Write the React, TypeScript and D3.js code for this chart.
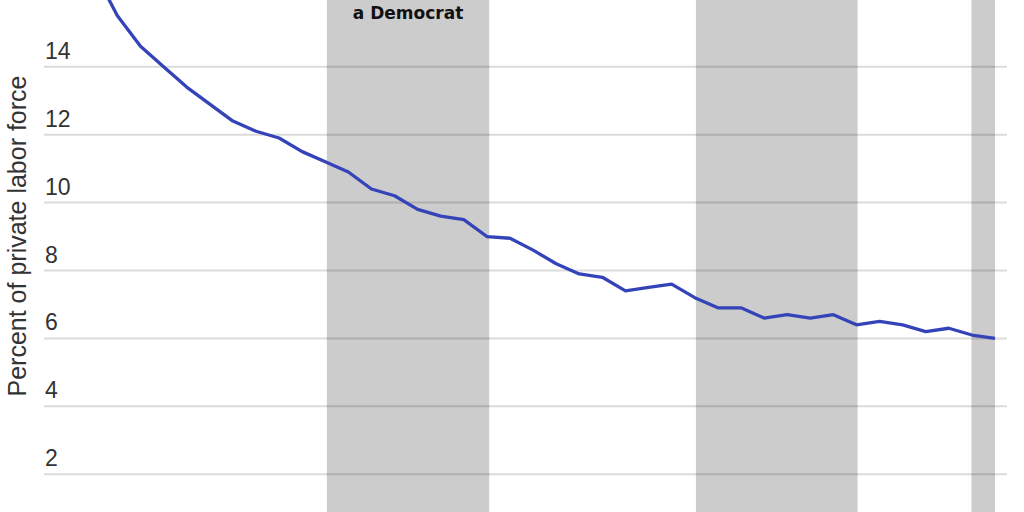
import React from "react";
import * as d3 from "d3";

const years: number[] = [1983,1984,1985,1986,1987,1988,1989,1990,1991,1992,1993,1994,1995,1996,1997,1998,1999,2000,2001,2002,2003,2004,2005,2006,2007,2008,2009,2010,2011,2012,2013,2014,2015,2016,2017,2018,2019,2020,2021,2022];
const rates: number[] = [16.8,15.5,14.6,14.0,13.4,12.9,12.4,12.1,11.9,11.5,11.2,10.9,10.4,10.2,9.8,9.6,9.5,9.0,8.95,8.6,8.2,7.9,7.8,7.4,7.5,7.6,7.2,6.9,6.9,6.6,6.7,6.6,6.7,6.4,6.5,6.4,6.2,6.3,6.1,6.0];
const democratStart: number[] = [1993.07, 2009.05, 2020.98];
const democratEnd: number[] = [2000.1, 2016.05, 2022.0];
const yTicks: number[] = [2, 4, 6, 8, 10, 12, 14];
const shadeLabel = "a Democrat";
const yLabel = "Percent of private labor force";

const W = 1024;
const H = 512;

export default function App() {
  const x = d3.scaleLinear().domain([1983, 2022]).range([94.3, 995]);
  const y = d3.scaleLinear().domain([2, 14]).range([474.3, 66.7]);
  const gridX0 = 44;
  const gridX1 = 1007;
  const line = d3
    .line<number>()
    .x((_, i) => x(years[i]))
    .y((d) => y(d))
    .curve(d3.curveLinear);

  return (
    <svg
      width={W}
      height={H}
      style={{ position: "fixed", left: 0, top: 0, background: "#fff" }}
    >
      <rect x={0} y={0} width={W} height={H} fill="#fff" />
      {democratStart.map((s, i) => (
        <rect
          key={i}
          x={x(s)}
          y={0}
          width={x(democratEnd[i]) - x(s)}
          height={H}
          fill="#cccccc"
        />
      ))}
      <text
        x={(x(democratStart[0]) + x(democratEnd[0])) / 2}
        y={19}
        textAnchor="middle"
        fontFamily="DejaVu Sans"
        fontWeight="bold"
        fontSize={17}
        fill="#111"
      >
        {shadeLabel}
      </text>
      {yTicks.map((t) => (
        <g key={t}>
          <line
            x1={gridX0}
            x2={gridX1}
            y1={y(t)}
            y2={y(t)}
            stroke="#000"
            strokeOpacity={0.14}
            strokeWidth={2}
          />
          <text
            x={45}
            y={y(t) - 8}
            fontFamily="Liberation Sans, Arial, sans-serif"
            fontSize={23}
            fill="#333"
          >
            {t}
          </text>
        </g>
      ))}
      <text
        transform={`translate(26, 236) rotate(-90)`}
        textAnchor="middle"
        fontFamily="Liberation Sans, Arial, sans-serif"
        fontSize={25}
        fill="#333"
      >
        {yLabel}
      </text>
      <path
        d={line(rates) || ""}
        fill="none"
        stroke="#3444b8"
        strokeWidth={3.3}
        strokeLinejoin="round"
      />
    </svg>
  );
}
